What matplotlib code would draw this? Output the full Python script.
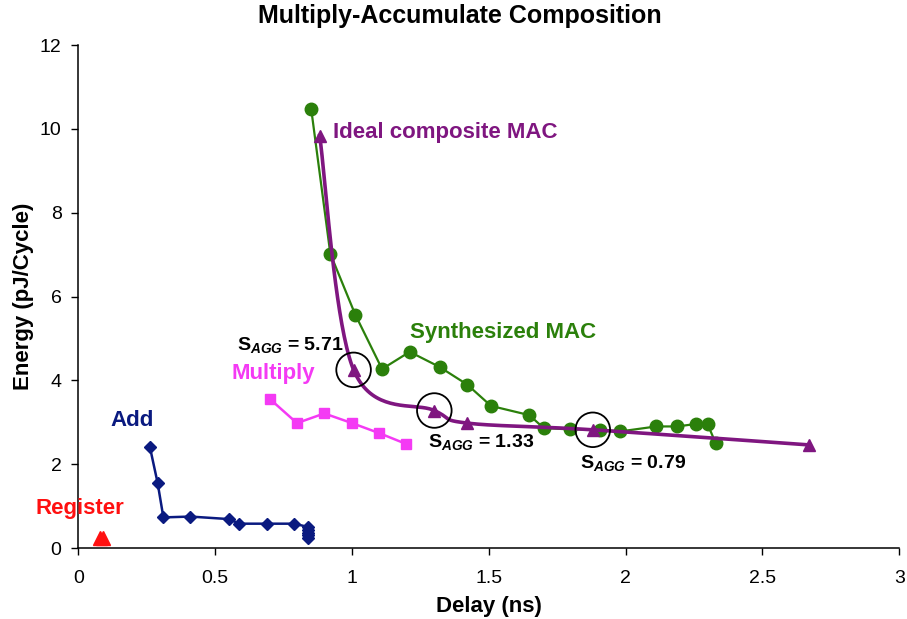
import numpy as np
import matplotlib
matplotlib.use("Agg")
import matplotlib.pyplot as plt

plt.rcParams['font.family'] = ['Liberation Sans', 'DejaVu Sans']
plt.rcParams['mathtext.fontset'] = 'custom'
plt.rcParams['mathtext.rm'] = 'Liberation Sans:bold'
plt.rcParams['mathtext.it'] = 'Liberation Sans:bold:italic'
plt.rcParams['mathtext.bf'] = 'Liberation Sans:bold'

# delay (ns) / energy (pJ/cycle)
register_delay = [0.08, 0.09]
register_energy = [0.24, 0.24]

add_delay = [0.262, 0.290, 0.311, 0.410, 0.550, 0.589, 0.689, 0.789,
             0.841, 0.841, 0.841, 0.841, 0.841]
add_energy = [2.40, 1.55, 0.73, 0.75, 0.69, 0.58, 0.58, 0.58,
              0.50, 0.43, 0.36, 0.30, 0.24]

mult_delay = [0.701, 0.799, 0.899, 1.000, 1.100, 1.199]
mult_energy = [3.55, 2.98, 3.21, 2.98, 2.74, 2.48]

synth_delay = [0.851, 0.921, 1.012, 1.110, 1.211, 1.320, 1.421, 1.508, 1.648,
               1.701, 1.798, 1.908, 1.979, 2.112, 2.189, 2.258, 2.300, 2.329]
synth_energy = [10.48, 7.02, 5.57, 4.27, 4.68, 4.32, 3.90, 3.39, 3.17,
                2.86, 2.83, 2.82, 2.78, 2.90, 2.90, 2.96, 2.95, 2.50]

ideal_delay = [0.882, 1.006, 1.301, 1.421, 1.880, 2.669]
ideal_energy = [9.84, 4.25, 3.28, 2.98, 2.82, 2.46]

# aggregate sensitivity at the highlighted design points
sagg_idx = [1, 2, 4]
sagg_vals = ["5.71", "1.33", "0.79"]


def smooth(xs, ys, n=40):
    # Catmull-Rom style bezier smoothing, like a spreadsheet "smoothed line"
    p = np.column_stack([xs, ys]).astype(float)
    p = np.vstack([p[0], p, p[-1]])
    out = []
    for i in range(1, len(p) - 2):
        p0, p1, p2, p3 = p[i - 1], p[i], p[i + 1], p[i + 2]
        c1 = p1 + (p2 - p0) / 6.0
        c2 = p2 - (p3 - p1) / 6.0
        t = np.linspace(0, 1, n)[:, None]
        seg = ((1 - t) ** 3) * p1 + 3 * ((1 - t) ** 2) * t * c1 \
            + 3 * (1 - t) * t ** 2 * c2 + t ** 3 * p2
        out.append(seg)
    out = np.vstack(out)
    return out[:, 0], out[:, 1]


purple = '#7f1680'
green = '#2b800b'
magenta = '#f43af4'
navy = '#0a1a80'
red = '#ff1010'

fig = plt.figure(figsize=(9.07, 6.19), dpi=100)
ax = fig.add_axes([0.0863, 0.1147, 0.9052, 0.8126])

ax.plot(register_delay, register_energy, '^', color=red, ms=10.5, mec=red)
ax.plot(add_delay, add_energy, '-D', color=navy, lw=1.8, ms=6.5)
ax.plot(mult_delay, mult_energy, '-s', color=magenta, lw=1.8, ms=7)
ax.plot(synth_delay, synth_energy, '-o', color=green, lw=1.6, ms=9)

sx, sy = smooth(ideal_delay, ideal_energy)
ax.plot(sx, sy, '-', color=purple, lw=2.6)
ax.plot(ideal_delay, ideal_energy, '^', color=purple, ms=9)

ax.scatter([ideal_delay[i] for i in sagg_idx], [ideal_energy[i] for i in sagg_idx],
           s=620, facecolors='none', edgecolors='black', linewidths=1.3, zorder=5)

bold = dict(fontsize=16, fontweight='bold', va='center', ha='left')
ax.text(0.932, 9.91, 'Ideal composite MAC', color=purple, **bold)
ax.text(1.213, 5.13, 'Synthesized MAC', color=green, **bold)
ax.text(0.559, 4.17, 'Multiply', color=magenta, **bold)
ax.text(0.116, 3.03, 'Add', color=navy, **bold)
ax.text(-0.158, 0.94, 'Register', color=red, **bold)

sagg_pos = [(0.581, 4.84), (1.279, 2.53), (1.835, 2.03)]
for (tx, ty), v in zip(sagg_pos, sagg_vals):
    ax.text(tx, ty, r'S$_{\mathit{AGG}}$ = ' + v, fontsize=14,
            fontweight='bold', color='black', va='center', ha='left')

ax.set_xlim(0, 3)
ax.set_ylim(0, 12)
ax.set_xticks([0, 0.5, 1, 1.5, 2, 2.5, 3])
ax.set_xticklabels(['0', '0.5', '1', '1.5', '2', '2.5', '3'])
ax.set_yticks(range(0, 13, 2))
ax.tick_params(direction='out', length=5, width=1, labelsize=14)
ax.tick_params(axis='x', pad=11)
ax.tick_params(axis='y', pad=7)
for side in ['top', 'right']:
    ax.spines[side].set_visible(False)
for side in ['left', 'bottom']:
    ax.spines[side].set_linewidth(1.1)

ax.set_xlabel('Delay (ns)', fontsize=16, fontweight='bold', labelpad=6)
ax.set_ylabel('Energy (pJ/Cycle)', fontsize=16, fontweight='bold', labelpad=4)
fig.text(0.507, 0.974, 'Multiply-Accumulate Composition', fontsize=18,
         fontweight='bold', ha='center', va='center')

fig.savefig('out.png', dpi=100)
